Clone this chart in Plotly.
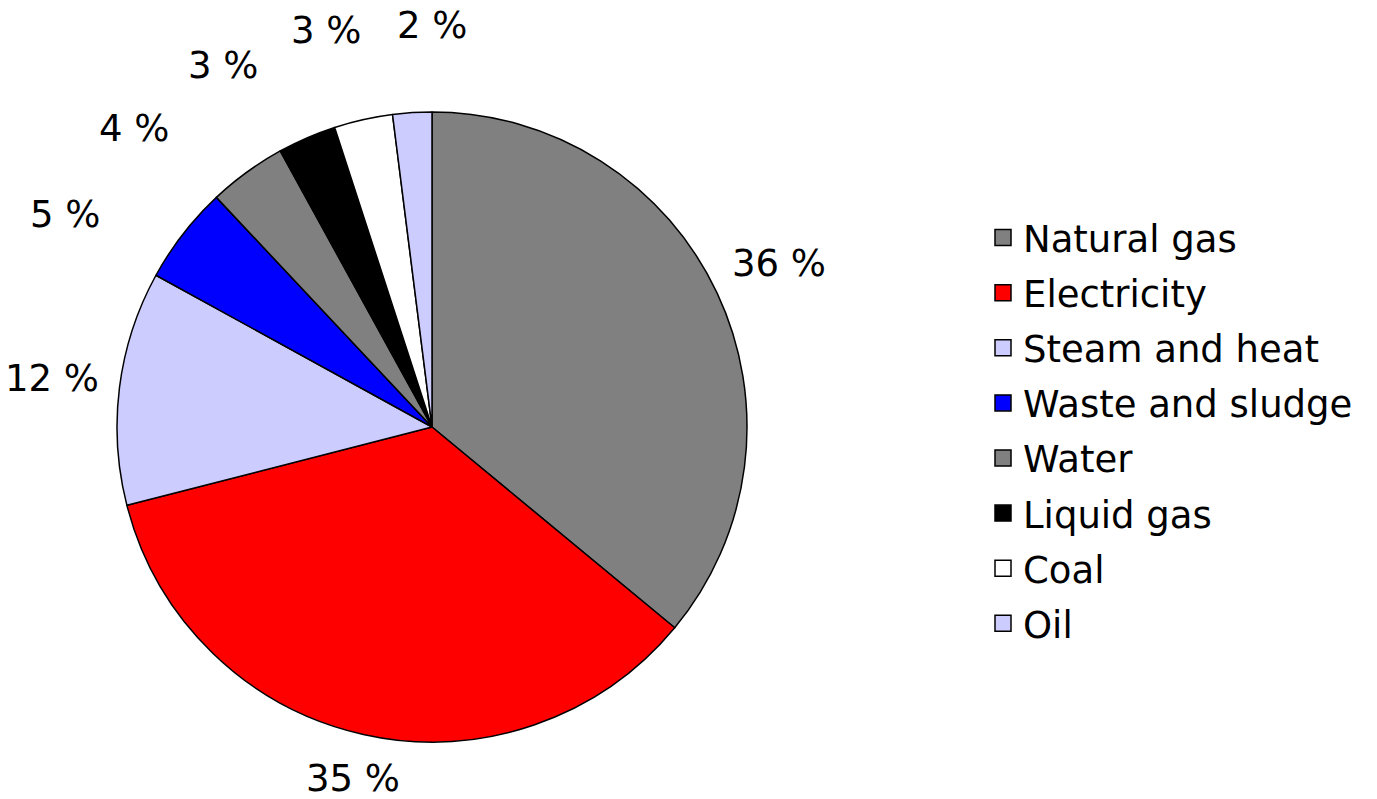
import math
import plotly.graph_objects as go

labels = ["Natural gas", "Electricity", "Steam and heat", "Waste and sludge",
          "Water", "Liquid gas", "Coal", "Oil"]
values = [36, 35, 12, 5, 4, 3, 3, 2]
colors = ["#808080", "#FF0000", "#CCCCFF", "#0000FF",
          "#808080", "#000000", "#FFFFFF", "#CCCCFF"]

# the page body adds an 8px margin, so the figure is 8px smaller than the window
W, H = 1369, 791
M_T, M_B, M_L, M_R = 104, 57, 0, 0
PIE_X = [0, 848 / W]
FS = 37
FONT = "DejaVu Sans"

plot_w = W - M_L - M_R
plot_h = H - M_T - M_B
dom_w = (PIE_X[1] - PIE_X[0]) * plot_w
R = min(dom_w, plot_h) / 2           # pie radius, px (plotly rule)
cx_paper = (PIE_X[0] + PIE_X[1]) / 2
cy_paper = 0.5

# label angles: slice midpoints (clockwise from 12 o'clock); crowded labels are
# spread apart going back from 12 o'clock
total = sum(values)
mids, acc = [], 0
for v in values:
    mids.append((acc + v / 2) / total * 360)
    acc += v
MIN_GAP = 15
lab_theta = mids[:]
if lab_theta[-1] - lab_theta[-2] < MIN_GAP:
    lab_theta[-1] = 360.0
for i in range(len(lab_theta) - 1, 0, -1):
    if lab_theta[i - 1] > lab_theta[i] - MIN_GAP:
        lab_theta[i - 1] = lab_theta[i] - MIN_GAP

texts = [f"{v} %" for v in values]

fig = go.Figure()
fig.add_trace(go.Pie(
    labels=labels,
    values=values,
    sort=False,
    direction="clockwise",
    rotation=0,
    marker=dict(colors=colors, line=dict(color="#000000", width=1.5)),
    textinfo="none",
    domain=dict(x=PIE_X, y=[0, 1]),
    showlegend=False,
    hoverinfo="label+percent",
))

# percentage labels placed outside each slice
for t, txt, v in zip(lab_theta, texts, values):
    a = math.radians(t)
    hw = 0.32 * FS * len(txt)
    hh = 0.45 * FS
    gap = 19 if v >= 10 else 70
    rpx = R + gap + abs(math.sin(a)) * hw + abs(math.cos(a)) * hh
    fig.add_annotation(
        x=cx_paper + rpx * math.sin(a) / plot_w,
        y=cy_paper + rpx * math.cos(a) / plot_h,
        xref="paper", yref="paper", text=txt, showarrow=False,
        xanchor="center", yanchor="middle",
        font=dict(family=FONT, size=FS, color="#000000"),
    )

# legend entries
for i, (lab, col) in enumerate(zip(labels, colors)):
    fig.add_trace(go.Scatter(
        x=[None], y=[None], mode="markers", name=lab,
        marker=dict(symbol="square", size=16, color=col,
                    line=dict(color="#000000", width=1.5)),
        legendgroup=f"g{i}", showlegend=True, hoverinfo="skip",
    ))

fig.update_layout(
    width=W, height=H,
    margin=dict(l=M_L, r=M_R, t=M_T, b=M_B, autoexpand=False),
    paper_bgcolor="white",
    plot_bgcolor="white",
    font=dict(family=FONT, size=FS, color="#000000"),
    xaxis=dict(visible=False),
    yaxis=dict(visible=False),
    legend=dict(
        x=975 / W, y=0.4944, xanchor="left", yanchor="middle",
        font=dict(family=FONT, size=FS, color="#000000"),
        itemwidth=30,
        tracegroupgap=4,
        bgcolor="rgba(0,0,0,0)",
    ),
)

fig.write_html("out.html")
